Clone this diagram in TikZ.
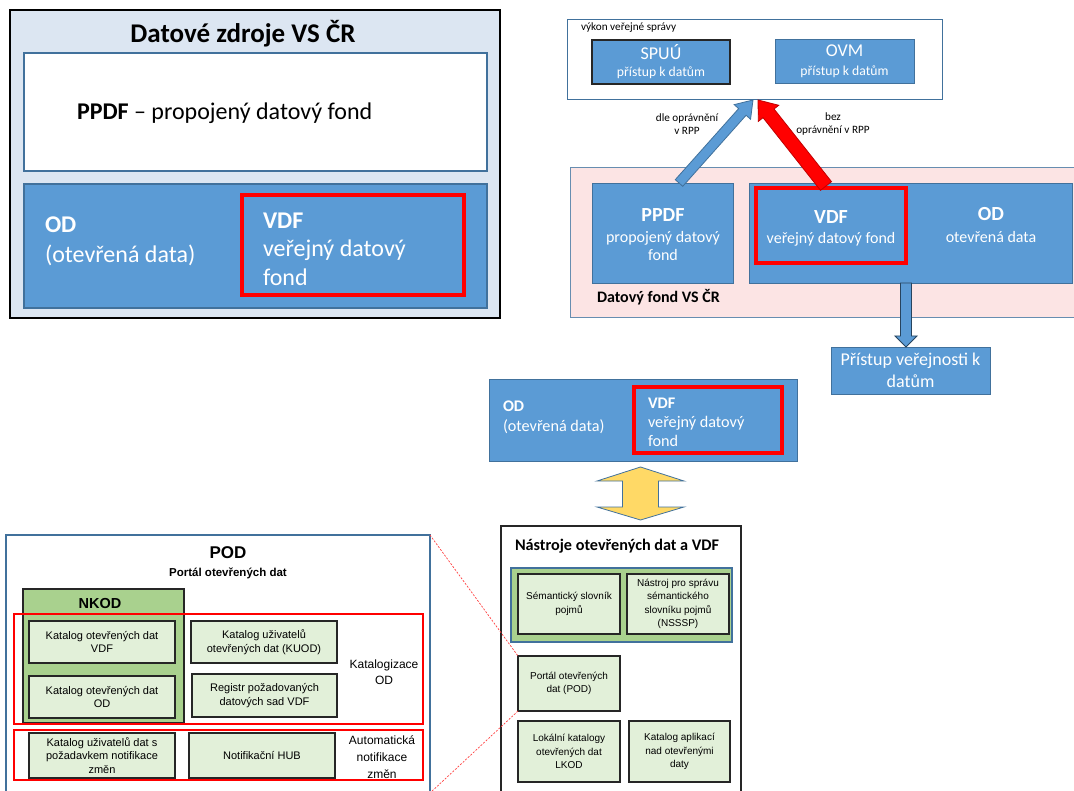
\documentclass[tikz,border=0pt]{standalone}
\usepackage{fontspec}
\setmainfont{Carlito}
\newfontfamily\arialfont{Liberation Sans}
\usetikzlibrary{calc}

\definecolor{paneblue}{HTML}{DCE6F2}
\definecolor{boxblue}{HTML}{5B9BD5}
\definecolor{edgeblue}{HTML}{41719C}
\definecolor{pinkfill}{HTML}{FCE4E4}
\definecolor{greenfill}{HTML}{A9D18E}
\definecolor{lightgreen}{HTML}{E2F0D9}
\definecolor{arrowyellow}{HTML}{FFD966}
\definecolor{arrowred}{HTML}{C00000}

\newcommand\fsz[2]{\fontsize{#1}{#2}\selectfont}

% block arrow: #1 style, #2 start, #3 tip, #4 half shaft, #5 half head, #6 head length
\newcommand\fatarrow[6]{%
  \coordinate (fa-s) at #2;
  \coordinate (fa-e) at #3;
  \coordinate (fa-h) at ($(fa-e)!#6!(fa-s)$);
  \draw[#1] ($(fa-s)!#4!90:(fa-e)$) -- ($(fa-h)!#4!-90:(fa-s)$) -- ($(fa-h)!#5!-90:(fa-s)$)
    -- (fa-e) -- ($(fa-h)!#5!90:(fa-s)$) -- ($(fa-h)!#4!90:(fa-s)$) -- ($(fa-s)!#4!-90:(fa-e)$) -- cycle;
}

\tikzset{
  every node/.style={inner sep=0pt, outer sep=0pt},
  box/.style={draw, rectangle, anchor=north west, inner sep=0pt, outer sep=0pt},
  bluebox/.style={box, fill=boxblue, draw=edgeblue, line width=1pt, text=white, align=center},
  redframe/.style={box, draw=red, line width=#1},
  headtext/.style={text=white, font=\fsz{20}{22}\bfseries},
  subtext/.style={text=white, font=\fsz{16}{19}},
  gbox/.style={box, fill=lightgreen, draw=black!85, line width=1.3pt, align=center,
    font=\arialfont\fsz{10}{13.3}},
  pbox/.style={box, fill=lightgreen, draw=black!85, line width=1.3pt, align=center,
    font=\arialfont\fsz{11}{13.5}},
  zoomline/.style={draw=red!75, line width=0.7pt, dash pattern=on 2pt off 1.5pt},
}

\begin{document}
\begin{tikzpicture}[x=1pt, y=-1pt]
\useasboundingbox (0,0) rectangle (1074,791);

% ---------- Datové zdroje VS ČR ----------
\node[box, fill=paneblue, draw=black, line width=1.8pt, minimum width=490pt, minimum height=308pt] (dz) at (10,10) {};
\node[font=\fsz{27}{32}\bfseries] (dz-t) at (243,34) {Datové zdroje VS ČR};
\node[box, fill=white, draw=edgeblue, line width=1.2pt, minimum width=463pt, minimum height=118pt] (dz-ppdf) at (24,53) {};
\node[anchor=west, font=\fsz{24}{28}] (dz-ppdf-t) at (77,113) {\textbf{PPDF} – propojený datový fond};
\node[box, fill=boxblue, draw=edgeblue, line width=1.2pt, minimum width=463pt, minimum height=124pt] (dz-od) at (24,184) {};
\node[anchor=west, align=left, text=white, font=\fsz{24}{30}] (dz-od-t) at (45,241) {\textbf{OD}\\(otevřená data)};
\node[redframe=4pt, minimum width=222pt, minimum height=100pt] (dz-vdf) at (242,195) {};
\node[anchor=west, align=left, text=white, font=\fsz{24}{28.5}] (dz-vdf-t) at (263,249) {\textbf{VDF}\\veřejný datový\\fond};

% ---------- výkon veřejné správy ----------
\node[box, fill=white, draw=edgeblue, line width=0.9pt, minimum width=375pt, minimum height=80pt] (vs) at (567,19) {};
\node[anchor=west, font=\fsz{11.2}{14}] (vs-t) at (581,28) {výkon veřejné správy};
\node[bluebox, draw=black!85, line width=1.2pt, minimum width=138pt, minimum height=44pt] (spuu) at (592,40) {};
\node[text=white, font=\fsz{18}{20}] (spuu-t) at (661,52) {SPUÚ};
\node[text=white, font=\fsz{13.7}{16}] (spuu-s) at (661,73) {přístup k datům};
\node[bluebox, line width=0.9pt, minimum width=139pt, minimum height=44pt] (ovm) at (775,39) {};
\node[text=white, font=\fsz{18}{20}] (ovm-t) at (844.5,51) {OVM};
\node[text=white, font=\fsz{13.7}{16}] (ovm-s) at (844.5,72) {přístup k datům};
\node[align=center, font=\fsz{11.2}{13.5}] (lbl-dle) at (687,124) {dle oprávnění\\v RPP};
\node[align=center, font=\fsz{11.2}{13.5}] (lbl-bez) at (833,124) {bez\\oprávnění v RPP};

% ---------- Datový fond VS ČR ----------
\node[box, fill=pinkfill, draw=edgeblue!80, line width=0.9pt, minimum width=510pt, minimum height=150pt] (df) at (570,167) {};
\node[bluebox, line width=0.9pt, minimum width=141pt, minimum height=100pt] (df-ppdf) at (592,183) {};
\node[headtext] (df-ppdf-t) at (663,215) {PPDF};
\node[subtext, align=center, font=\fsz{16}{17.5}] (df-ppdf-s) at (663,246) {propojený datový\\fond};
\node[bluebox, line width=0.9pt, minimum width=323pt, minimum height=100pt] (df-big) at (749,183) {};
\node[redframe=3.5pt, minimum width=150pt, minimum height=75pt] (df-vdf) at (756,188) {};
\node[headtext] (df-vdf-t) at (831,217) {VDF};
\node[subtext] (df-vdf-s) at (831,239) {veřejný datový fond};
\node[headtext] (df-od-t) at (991,214) {OD};
\node[subtext] (df-od-s) at (991,237) {otevřená data};
\node[anchor=west, font=\fsz{16}{19}\bfseries] (df-t) at (597,297) {Datový fond VS ČR};
\node[bluebox, line width=0.9pt, minimum width=159pt, minimum height=47pt, font=\fsz{18}{22}] (pv) at (831,347)
  {Přístup veřejnosti k\\datům};

% access arrows
\coordinate (a1s) at ($(df-ppdf.north west)+(87,0)$);
\coordinate (a1e) at ($(vs.south west)+(186,1)$);
\coordinate (a2s) at ($(df-vdf.north west)+(70,-2)$);
\coordinate (a2e) at ($(vs.south west)+(191,1)$);
\fatarrow{fill=boxblue, draw=edgeblue, line width=0.8pt}{(a1s)}{(a1e)}{5pt}{11pt}{16pt}
\fatarrow{fill=red, draw=arrowred, line width=0.8pt}{(a2s)}{(a2e)}{7pt}{13pt}{17pt}
\coordinate (a3s) at ($(df-big.south)+(-4.5,0)$);
\coordinate (a3e) at ($(pv.north)+(-4.5,0)$);
\fatarrow{fill=boxblue, draw=edgeblue!60!black, line width=0.9pt}{(a3s)}{(a3e)}{5.5pt}{11pt}{11pt}

% ---------- OD / VDF ----------
\node[bluebox, line width=1pt, minimum width=308pt, minimum height=82pt] (od3) at (489,380) {};
\node[redframe=3.5pt, minimum width=148pt, minimum height=66pt] (od3-vdf) at (634,387) {};
\node[anchor=west, align=left, text=white, font=\fsz{16.2}{20}] (od3-t) at (503,417) {\textbf{OD}\\(otevřená data)};
\node[anchor=west, align=left, text=white, font=\fsz{16.2}{19}] (od3-vdf-t) at (648,422) {\textbf{VDF}\\veřejný datový\\fond};

% ---------- Nástroje otevřených dat a VDF ----------
\node[box, fill=white, draw=black!85, line width=1.2pt, minimum width=240pt, minimum height=280pt] (nas) at (501,526) {};
\node[anchor=west, font=\fsz{16.2}{20}\bfseries] (nas-t) at (515,546) {Nástroje otevřených dat a VDF};
\node[box, fill=greenfill, draw=edgeblue, line width=1.2pt, minimum width=221pt, minimum height=74pt] (nas-g) at (511,568) {};
\node[gbox, minimum width=102pt, minimum height=60pt] (sem) at (518,574) {Sémantický slovník\\pojmů};
\node[gbox, minimum width=102pt, minimum height=60pt] (nsssp) at (627,574) {Nástroj pro správu\\sémantického\\slovníku pojmů\\(NSSSP)};
\node[gbox, minimum width=102pt, minimum height=55pt] (por) at (518,656) {Portál otevřených\\dat (POD)};
\node[gbox, minimum width=102pt, minimum height=61pt] (lkod) at (518,721) {Lokální katalogy\\otevřených dat\\LKOD};
\node[gbox, minimum width=101pt, minimum height=61pt] (kapl) at (629,721) {Katalog aplikací\\nad otevřenými\\daty};

% two-way arrow between OD/VDF and the tools
\coordinate (ya) at ($(od3.south)+(-2.5,5)$);
\coordinate (yb) at ($(nas.north)+(19.5,-6)$);
\draw[fill=arrowyellow, draw=edgeblue, line width=0.8pt]
  (ya) -- ++(43.5,14) -- ++(-25.5,0) -- ++(0,26) -- ++(25.5,0) -- (yb)
  -- ++(-43.5,-13) -- ++(25.5,0) -- ++(0,-26) -- ++(-25.5,0) -- cycle;

% ---------- POD ----------
\node[box, fill=white, draw=edgeblue, line width=1.5pt, minimum width=424pt, minimum height=258pt] (pod) at (6,535) {};
\node[font=\arialfont\fsz{17}{20}\bfseries] (pod-t) at (228,553) {POD};
\node[font=\arialfont\fsz{11.5}{13}\bfseries] (pod-st) at (228,573) {Portál otevřených dat};
\node[box, fill=greenfill, draw=black!85, line width=1.2pt, minimum width=161pt, minimum height=134pt] (nkod) at (23,589) {};
\node[font=\arialfont\fsz{14.5}{17}\bfseries] (nkod-t) at (100,604) {NKOD};
\node[pbox, minimum width=146pt, minimum height=42pt] (kvdf) at (29,621) {Katalog otevřených dat\\VDF};
\node[pbox, minimum width=146pt, minimum height=42pt] (kod) at (29,676) {Katalog otevřených dat\\OD};
\node[pbox, minimum width=146pt, minimum height=42pt] (kuod) at (191,621) {Katalog uživatelů\\otevřených dat (KUOD)};
\node[pbox, minimum width=145pt, minimum height=43pt] (reg) at (192,674) {Registr požadovaných\\datových sad VDF};
\node[pbox, minimum width=146pt, minimum height=45pt] (kud) at (29,733) {Katalog uživatelů dat s\\požadavkem notifikace\\změn};
\node[pbox, minimum width=146pt, minimum height=45pt] (hub) at (189,733) {Notifikační HUB};
\node[redframe=1.1pt, minimum width=409pt, minimum height=110pt] (grp-kat) at (14,614) {};
\node[redframe=1.1pt, minimum width=409pt, minimum height=50pt] (grp-not) at (14,730) {};
\node[align=center, font=\arialfont\fsz{12}{16.5}] (grp-kat-t) at (384,672) {Katalogizace\\OD};
\node[align=center, font=\arialfont\fsz{12}{17}] (grp-not-t) at (382,757) {Automatická\\notifikace\\změn};

% zoom lines from the POD panel to its entry among the tools
\draw[zoomline] (pod.north east) -- (por.north west);
\draw[zoomline] (por.south west) -- (pod.south east);
\end{tikzpicture}
\end{document}
